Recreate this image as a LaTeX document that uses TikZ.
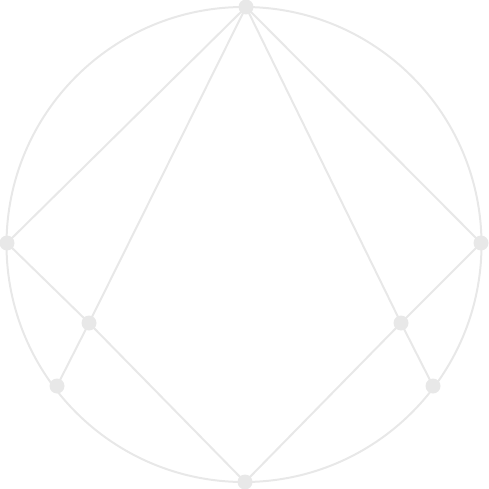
\documentclass[tikz,border=0pt]{standalone}
\definecolor{lc}{HTML}{E8E8E8}
\tikzset{
  edge/.style={draw=lc, line width=2pt},
  dot/.style={circle, fill=lc, inner sep=0pt, minimum size=15pt}
}
\begin{document}
\begin{tikzpicture}[x=1pt,y=-1pt]
\useasboundingbox (0,0) rectangle (488,489);
\draw[edge] (244,244.5) circle (237.5);
\coordinate (T) at (246,7);
\coordinate (L) at (7,243);
\coordinate (R) at (481,243);
\coordinate (B) at (245,482);
\coordinate (IL) at (89,323);
\coordinate (IR) at (401,323);
\coordinate (LL) at (57,386);
\coordinate (LR) at (433,386);
\draw[edge] (T) -- (L);
\draw[edge] (T) -- (R);
\draw[edge] (T) -- (IL);
\draw[edge] (T) -- (IR);
\draw[edge] (L) -- (IL);
\draw[edge] (R) -- (IR);
\draw[edge] (IL) -- (LL);
\draw[edge] (IR) -- (LR);
\draw[edge] (IL) -- (B);
\draw[edge] (IR) -- (B);
\foreach \p in {T,L,R,B,IL,IR,LL,LR} \node[dot] (n\p) at (\p) {};
\end{tikzpicture}
\end{document}
